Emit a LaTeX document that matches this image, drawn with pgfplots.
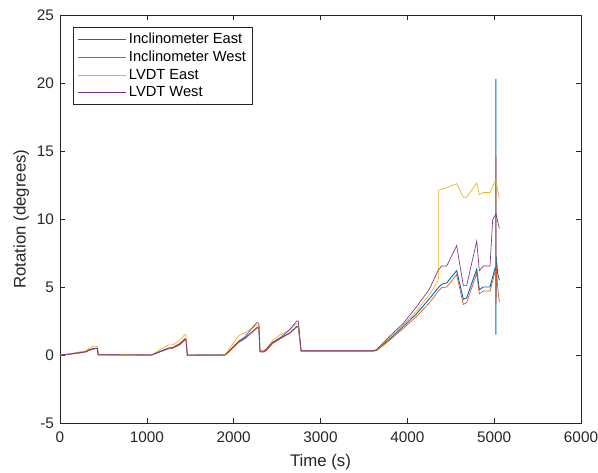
\documentclass[border=0pt]{standalone}
\usepackage{pgfplots}
\pgfplotsset{compat=1.18}
\usepackage{fontspec}
\setmainfont{Liberation Sans}
\definecolor{mB}{rgb}{0,0.447,0.741}
\definecolor{mO}{rgb}{0.85,0.325,0.098}
\definecolor{mY}{rgb}{0.929,0.694,0.125}
\definecolor{mP}{rgb}{0.494,0.184,0.556}
\definecolor{axg}{rgb}{0.15,0.15,0.15}
\begin{document}
\begin{tikzpicture}
\begin{axis}[
  scale only axis,
  width=390.75pt, height=306pt,
  xmin=0, xmax=6000, ymin=-5, ymax=25,
  xtick={0,1000,...,6000}, ytick={-5,0,...,25},
  tick align=inside, ticks=both,
  xtick pos=both, ytick pos=both,
  major tick length=4pt,
  axis line style={axg, line width=0.5pt},
  tick style={axg, line width=0.5pt},
  every tick label/.append style={font=\fontsize{11.5}{13}\selectfont, text=axg},
  /pgf/number format/assume math mode=true,
  scaled x ticks=false,
  xticklabel style={/pgf/number format/1000 sep={}, yshift=-3pt},
  yticklabel style={xshift=-1pt},
  xlabel={Time (s)}, ylabel={Rotation (degrees)},
  label style={font=\fontsize{12.6}{14}\selectfont, text=axg},
  xlabel style={yshift=-2pt},
  ylabel style={yshift=-1pt},
  legend style={at={(0.025,0.97)}, anchor=north west, draw=axg, line width=0.5pt,
    font=\fontsize{11}{12}\selectfont, row sep=0.1pt, inner xsep=3pt, inner ysep=2pt},
  legend cell align=left,
  legend image code/.code={\draw[#1] (0pt,0pt) -- (36pt,0pt);},
  every axis plot/.append style={line width=0.5pt},
]
\addplot[mB, line width=0.7pt] coordinates {
(0,0) (100,0.05) (200,0.15) (300,0.25) (330,0.35) (400,0.48) (430,0.48) (441,0.02)
(1056,0.0) (1150,0.25) (1248,0.5) (1300,0.55) (1380,0.8) (1440,1.15) (1452,1.1) (1466,-0.02)
(1900,0.0) (1950,0.3) (2054,0.95) (2131,1.25) (2265,2.0) (2290,2.05) (2303,0.25)
(2350,0.25) (2380,0.4) (2450,0.9) (2553,1.3) (2650,1.65) (2726,2.1) (2745,2.1) (2776,0.3)
(3608,0.3) (3647,0.35) (3800,1.2) (3954,2.1) (4100,3.0) (4250,4.1) (4357,4.95) (4396,5.2)
(4453,5.3) (4568,6.2) (4645,4.1) (4683,4.2) (4799,6.3) (4829,4.8) (4875,5.0) (4952,5.0)
(5010,6.4) (5020,6.3) (5020,20.3) (5020,1.5) (5023,7.3) (5040,6.0) (5060,5.5)
};
\addlegendentry{Inclinometer East}
\addplot[mO] coordinates {
(0,0) (100,0.05) (200,0.12) (300,0.22) (330,0.32) (400,0.45) (430,0.45) (441,0.0)
(1056,0.0) (1150,0.22) (1248,0.45) (1300,0.5) (1380,0.75) (1440,1.1) (1452,1.05) (1466,-0.03)
(1900,0.0) (1950,0.25) (2054,0.9) (2131,1.2) (2265,1.95) (2290,2.0) (2303,0.22)
(2350,0.22) (2380,0.35) (2450,0.85) (2553,1.25) (2650,1.6) (2726,2.05) (2745,2.05) (2776,0.28)
(3608,0.28) (3647,0.33) (3800,1.1) (3954,1.95) (4100,2.8) (4250,3.8) (4357,4.7) (4396,4.95)
(4453,5.0) (4568,5.9) (4645,3.72) (4683,3.85) (4799,6.0) (4829,4.5) (4875,4.7) (4952,4.7)
(5010,6.1) (5021,6.0) (5021,14.6) (5021,3.7) (5025,6.5) (5040,5.0) (5060,3.85)
};
\addlegendentry{Inclinometer West}
\addplot[mY] coordinates {
(0,0) (100,0.08) (200,0.2) (300,0.3) (330,0.45) (384,0.66) (430,0.62) (441,0.03)
(1056,0.0) (1150,0.4) (1248,0.73) (1300,0.75) (1380,1.1) (1440,1.52) (1452,1.45) (1466,0.0)
(1900,0.0) (1950,0.45) (2054,1.4) (2131,1.64) (2265,2.2) (2290,2.2) (2303,0.3)
(2350,0.3) (2380,0.5) (2450,1.1) (2533,1.47) (2553,1.5) (2650,1.9) (2726,2.3) (2745,2.3) (2776,0.32)
(3608,0.32) (3647,0.4) (3800,1.3) (3954,2.2) (4100,3.2) (4250,4.4) (4357,5.5)
(4357,12.1) (4396,12.2) (4453,12.3) (4568,12.6) (4645,11.6) (4683,11.6) (4799,12.65) (4829,11.8)
(4875,11.95) (4952,11.95) (5010,12.8) (5025,12.6) (5060,11.5)
};
\addlegendentry{LVDT East}
\addplot[mP] coordinates {
(0,0) (100,0.06) (200,0.15) (300,0.25) (330,0.38) (400,0.5) (430,0.5) (441,0.02)
(1056,0.0) (1150,0.25) (1248,0.5) (1300,0.55) (1380,0.85) (1440,1.2) (1452,1.1) (1466,0.0)
(1900,0.0) (1950,0.3) (2054,1.0) (2131,1.35) (2265,2.38) (2290,2.35) (2303,0.3)
(2350,0.3) (2380,0.45) (2450,0.95) (2553,1.35) (2650,1.9) (2726,2.5) (2745,2.5) (2776,0.32)
(3608,0.32) (3647,0.4) (3800,1.4) (3954,2.33) (4100,3.5) (4250,4.8) (4357,6.25) (4396,6.54)
(4453,6.54) (4568,8.04) (4645,5.1) (4683,5.1) (4799,8.38) (4829,6.2) (4875,6.54) (4952,6.54)
(4983,9.97) (5021,10.37) (5060,9.3)
};
\addlegendentry{LVDT West}
\end{axis}
\pgfresetboundingbox
\useasboundingbox ([xshift=-45pt,yshift=-37.5pt]current axis.south west) rectangle ([xshift=12.75pt,yshift=11.25pt]current axis.north east);
\end{tikzpicture}
\end{document}
